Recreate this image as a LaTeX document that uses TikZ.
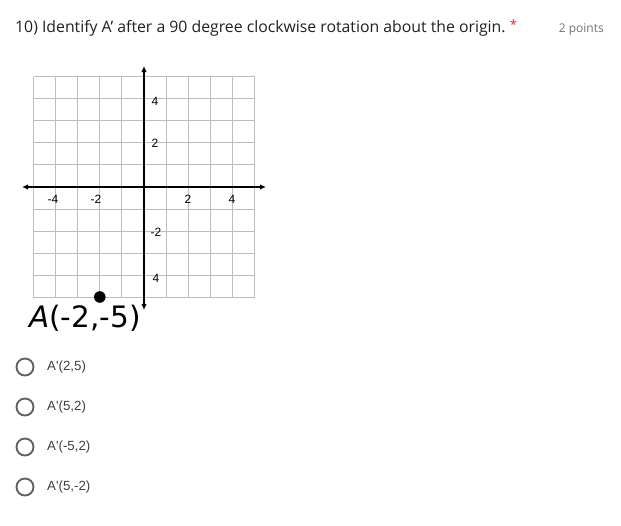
\documentclass[tikz,border=0pt]{standalone}
\usepackage{fontspec}
\setmainfont{Open Sans}
\newfontfamily\gridfont{Liberation Sans}
\newfontfamily\labfont{DejaVu Sans}
\newfontfamily\optfont{Liberation Sans}
\usetikzlibrary{arrows.meta}
\definecolor{titlecol}{HTML}{202124}
\definecolor{ptscol}{HTML}{70757A}
\definecolor{starcol}{HTML}{D93025}
\definecolor{radiocol}{HTML}{5F6368}
\definecolor{optcol}{HTML}{3C4043}
\definecolor{gridcol}{HTML}{BDBDBD}
\begin{document}
\begin{tikzpicture}[x=1pt,y=-1pt,
  gridline/.style={draw=gridcol,line width=0.9pt},
  axisline/.style={draw=black,line width=2.2pt,{Latex[length=6pt,width=5.5pt]}-{Latex[length=6pt,width=5.5pt]}},
  ticklab/.style={font=\gridfont\fontsize{12}{14}\selectfont,inner sep=0pt},
  radio/.style={circle,draw=radiocol,line width=1.9pt,minimum size=17pt,inner sep=0pt},
  opt/.style={anchor=west,font=\optfont\fontsize{13.3}{15}\selectfont,text=optcol,inner sep=0pt},
]
\useasboundingbox (0,0) rectangle (621,525);
\fill[white] (0,0) rectangle (621,525);
% title
\node[anchor=base west,inner sep=0pt,text=titlecol,font=\fontsize{15.8}{18}\selectfont] (title) at (15,32)
  {10) Identify A' after a 90 degree clockwise rotation about the origin.};
\node[anchor=base west,inner sep=0pt,text=starcol,font=\fontsize{13}{15}\selectfont] (star) at ([xshift=4pt,yshift=3pt]title.base east) {*};
\node[anchor=base east,inner sep=0pt,text=ptscol,font=\fontsize{12}{14}\selectfont] (pts) at (604,32) {2 points};
% grid
\foreach \i in {0,...,10}{
  \draw[gridline] (33.5+\i*22.1,76.5) -- (33.5+\i*22.1,297.5);
  \draw[gridline] (33.5,76.5+\i*22.1) -- (254.5,76.5+\i*22.1);
}
% axes
\coordinate (xl) at (22,187);
\coordinate (xr) at (266,187);
\coordinate (yt) at (144,66);
\coordinate (yb) at (144,310);
\draw[axisline] (xl) -- (xr);
\draw[axisline] (yt) -- (yb);
% tick labels
\node[ticklab] (xm4) at (53,199) {-4};
\node[ticklab] (xm2) at (96,199) {-2};
\node[ticklab] (xp2) at (188,199) {2};
\node[ticklab] (xp4) at (232,199) {4};
\node[ticklab] (yp4) at (155,101) {4};
\node[ticklab] (yp2) at (155,143) {2};
\node[ticklab] (ym2) at (156,232) {-2};
\node[ticklab] (ym4) at (156,278) {4};
% point A
\fill (99.8,297) circle (5.8);
\node[anchor=base west,inner sep=0pt,font=\labfont\fontsize{29.5}{32}\selectfont] (alab) at (29,327) {\textit{A}(-2,-5)};
% options
\foreach \y/\t [count=\k] in {367/{A'(2,5)},407/{A'(5,2)},447/{A'(-5,2)},487/{A'(5,-2)}}{
  \node[radio] (r\k) at (25,\y) {};
  \node[opt] (o\k) at (47,\y) {\t};
}
\end{tikzpicture}
\end{document}
